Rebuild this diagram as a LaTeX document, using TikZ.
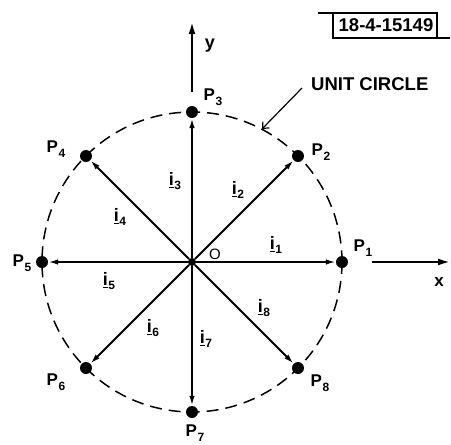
\documentclass[tikz,border=0pt]{standalone}
\usepackage{fontspec}
\setmainfont{Liberation Sans}
\usetikzlibrary{arrows.meta}
\newcommand\vecI[1]{\underline{i}\kern0.5pt\raisebox{-0.45ex}{\fontsize{12}{12}\selectfont #1}}
\newcommand\labP[1]{P\kern0.5pt\raisebox{-0.5ex}{\fontsize{12}{12}\selectfont #1}}
\begin{document}
\begin{tikzpicture}[x=1pt,y=-1pt,
  dot/.style={circle,fill=black,inner sep=0pt,minimum size=12pt},
  odot/.style={circle,fill=black,inner sep=0pt,minimum size=8pt},
  vec/.style={line width=1.8pt,-{Latex[length=10pt,width=5.5pt]}},
  axis/.style={line width=2pt,-{Latex[length=12pt,width=7pt]}},
  ucircle/.style={line width=1.5pt,dash pattern=on 12pt off 7pt},
  plab/.style={inner sep=0pt,font=\bfseries\fontsize{17}{17}\selectfont},
  ilab/.style={inner sep=0pt,font=\bfseries\fontsize{18}{18}\selectfont},
  txt/.style={inner sep=0pt,font=\bfseries\fontsize{18.5}{18.5}\selectfont}]
\useasboundingbox (0,0) rectangle (451,445);
% unit circle
\node[odot] (O) at (192,262) {};
\draw[ucircle] (O.center) circle (150);
% points
\node[dot] (P1) at (342,262) {};
\node[dot] (P2) at (298,156) {};
\node[dot] (P3) at (192,112) {};
\node[dot] (P4) at (86,156) {};
\node[dot] (P5) at (42,262) {};
\node[dot] (P6) at (86,368) {};
\node[dot] (P7) at (192,412) {};
\node[dot] (P8) at (298,368) {};
% vectors
\foreach \k in {1,...,8} \draw[vec] (O) -- (P\k);
% axes
\coordinate (yb) at (192,92);
\coordinate (yt) at (192,22);
\draw[axis] (yb) -- (yt);
\coordinate (xb) at (372,262);
\coordinate (xt) at (450,262);
\draw[axis] (xb) -- (xt);
\node[ilab] (ylab) at (210,46) {y};
\node[ilab,font=\bfseries\fontsize{17}{17}\selectfont] (xlab) at (439,282) {x};
\node[ilab,font=\fontsize{15}{15}\selectfont] (olab) at (215,254) {O};
% point labels
\node[plab] (L1) at (363,248) {\labP{1}};
\node[plab] (L2) at (321,152) {\labP{2}};
\node[plab] (L3) at (213,97) {\labP{3}};
\node[plab] (L4) at (56,149) {\labP{4}};
\node[plab] (L5) at (22,263) {\labP{5}};
\node[plab] (L6) at (56,382) {\labP{6}};
\node[plab] (L7) at (195,433) {\labP{7}};
\node[plab] (L8) at (320,383) {\labP{8}};
% vector labels
\node[ilab] (I1) at (276,245) {\vecI{1}};
\node[ilab] (I2) at (238,190) {\vecI{2}};
\node[ilab] (I3) at (175,181) {\vecI{3}};
\node[ilab] (I4) at (120,217) {\vecI{4}};
\node[ilab] (I5) at (109,281) {\vecI{5}};
\node[ilab] (I6) at (153,328) {\vecI{6}};
\node[ilab] (I7) at (206,339) {\vecI{7}};
\node[ilab] (I8) at (264,308) {\vecI{8}};
% unit circle callout
\node[txt,anchor=west] (uc) at (311,84) {UNIT CIRCLE};
\coordinate (ucs) at (302,88);
\coordinate (uce) at (262,129);
\draw[line width=1.2pt,-{Straight Barb[length=5pt,width=9pt]}] (ucs) -- (uce);
% figure number box
\node[txt] (fig) at (386,25) {18-4-15149};
\coordinate (b1) at (318,13);
\coordinate (b2) at (437,13);
\coordinate (b3) at (437,38);
\coordinate (b4) at (450,38);
\coordinate (b5) at (333,38);
\coordinate (b6) at (333,13);
\draw[line width=1.2pt] (b1) -- (b2) -- (b3);
\draw[line width=1.2pt] (b6) -- (b5) -- (b4);
\end{tikzpicture}
\end{document}
